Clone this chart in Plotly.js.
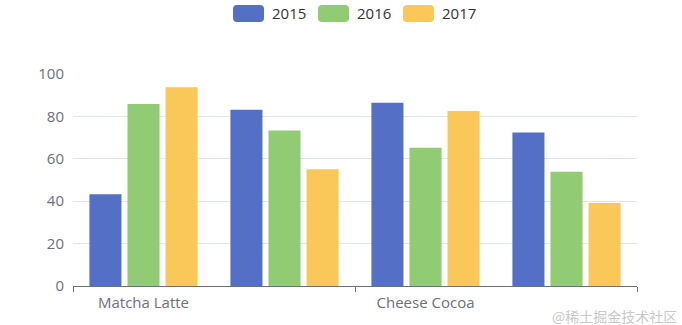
<!DOCTYPE html>
<html><head><meta charset="utf-8">
<script src="https://cdn.plot.ly/plotly-3.0.1.min.js"></script>
<style>body{margin:0;background:#fff}#c{width:682px;height:325px}</style>
</head><body><div id="c"></div>
<script>
const categories = ['Matcha Latte', 'Milk Tea', 'Cheese Cocoa', 'Walnut Brownie'];
const seriesNames = ['2015', '2016', '2017'];
const v2015 = [43.3, 83.1, 86.4, 72.4];
const v2016 = [85.8, 73.4, 65.2, 53.9];
const v2017 = [93.7, 55.1, 82.5, 39.1];
const shownLabels = ['Matcha Latte', 'Cheese Cocoa'];
const yTicks = [0, 20, 40, 60, 80, 100];
const colors = ['#5470c6', '#91cc75', '#fac858'];
const values = [v2015, v2016, v2017];

const W = 682, H = 325, L = 73, R = 45, T = 74, B = 39;
const pw = W - L - R, ph = H - T - B;
const font = 'Open Sans, Noto Sans, sans-serif';

const traces = seriesNames.map((n, i) => ({
  type: 'bar', name: n, x: categories, y: values[i],
  marker: {color: colors[i]}, showlegend: false, hoverinfo: 'none'
}));
// boundary ticks axis
traces.push({type: 'scatter', x: [-0.5, 3.5], y: [0, 0], xaxis: 'x2', yaxis: 'y',
  mode: 'none', showlegend: false, hoverinfo: 'none'});

// custom legend
const shapes = [], annotations = [];
const boxX = [233, 318, 403], boxW = 31, boxY = 5, boxH = 17, r = 4;
function px(x) { return (x - L) / pw; }
function py(y) { return (H - B - y) / ph; }
seriesNames.forEach((n, i) => {
  const x0 = boxX[i], x1 = x0 + boxW, y0 = boxY, y1 = boxY + boxH;
  const p = `M ${px(x0 + r)},${py(y0)} L ${px(x1 - r)},${py(y0)} Q ${px(x1)},${py(y0)} ${px(x1)},${py(y0 + r)} ` +
    `L ${px(x1)},${py(y1 - r)} Q ${px(x1)},${py(y1)} ${px(x1 - r)},${py(y1)} L ${px(x0 + r)},${py(y1)} ` +
    `Q ${px(x0)},${py(y1)} ${px(x0)},${py(y1 - r)} L ${px(x0)},${py(y0 + r)} Q ${px(x0)},${py(y0)} ${px(x0 + r)},${py(y0)} Z`;
  shapes.push({type: 'path', xref: 'paper', yref: 'paper', path: p, fillcolor: colors[i], line: {width: 0}});
  annotations.push({xref: 'paper', yref: 'paper', x: px(x1 + 6), y: py((y0 + y1) / 2),
    xanchor: 'left', yanchor: 'middle', text: n, showarrow: false,
    font: {family: font, size: 15, color: '#333'}});
});
annotations.push({xref: 'paper', yref: 'paper', x: px(679), y: py(316), xanchor: 'right', yanchor: 'middle',
  text: '@稀土掘金技术社区', showarrow: false,
  font: {family: 'Noto Sans CJK SC, sans-serif', size: 14, color: '#c9c9c9'}});

const layout = {
  width: W, height: H, margin: {l: L, r: R, t: T, b: B},
  paper_bgcolor: '#fff', plot_bgcolor: '#fff',
  barmode: 'group', bargap: 0.19, bargroupgap: 0.158,
  xaxis: {type: 'category', tickvals: shownLabels, ticktext: shownLabels,
    showline: true, linecolor: '#6e7079', linewidth: 1, ticks: '', showgrid: false,
    tickfont: {family: font, size: 15, color: '#6e7079'}, ticklabelstandoff: 3, fixedrange: true},
  xaxis2: {overlaying: 'x', anchor: 'y', range: [-0.5, 3.5], tickvals: [-0.5, 1.5, 3.5],
    ticks: 'outside', ticklen: 5, tickcolor: '#6e7079', showticklabels: false,
    showgrid: false, showline: false, zeroline: false},
  yaxis: {range: [0, 100], tickvals: yTicks, showgrid: true, gridcolor: '#E0E6F1', zeroline: false,
    showline: false, ticks: '', tickfont: {family: font, size: 15, color: '#6e7079'},
    ticklabelstandoff: 8},
  shapes: shapes, annotations: annotations, showlegend: false
};
Plotly.newPlot('c', traces, layout, {staticPlot: true});
</script></body></html>
